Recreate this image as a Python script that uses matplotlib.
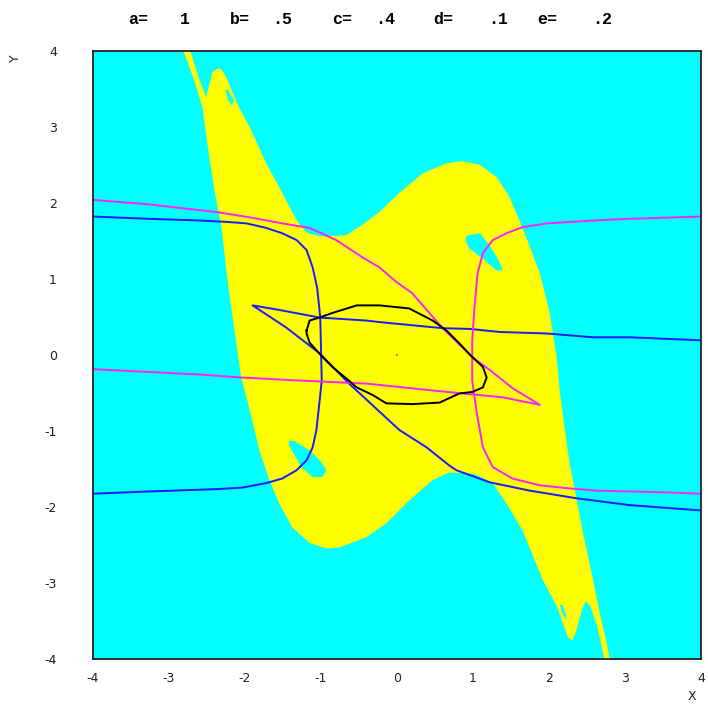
import matplotlib
matplotlib.use("Agg")
import matplotlib.pyplot as plt

# yellow basin outline
basin_x = [-2.81, -2.72, -2.60, -2.51, -2.43, -2.36, -2.31, -2.25, -2.08, -1.94, -1.72, -1.51,
           -1.32, -1.19, -1.02, -0.67, -0.43, -0.23, 0.03, 0.34, 0.65, 0.86, 1.09, 1.31, 1.48,
           1.61, 1.75, 1.88, 2.01, 2.10, 2.14, 2.18, 2.27, 2.36, 2.44, 2.58, 2.67, 2.75, 2.80,
           2.73, 2.63, 2.54, 2.48, 2.43, 2.36, 2.31, 2.25, 2.17, 2.11, 1.92, 1.65, 1.44, 1.26,
           1.02, 0.69, 0.47, 0.16, -0.14, -0.40, -0.76, -0.93, -1.15, -1.38, -1.55, -1.68,
           -1.81, -1.97, -2.05, -2.17, -2.23, -2.31, -2.38, -2.47, -2.56, -2.67]
basin_y = [4.00, 4.00, 3.62, 3.39, 3.72, 3.77, 3.76, 3.66, 3.26, 3.00, 2.52, 2.13,
           1.77, 1.61, 1.56, 1.57, 1.73, 1.88, 2.13, 2.39, 2.52, 2.55, 2.50, 2.34, 2.08,
           1.77, 1.42, 1.07, 0.55, -0.03, -0.47, -0.77, -1.43, -1.88, -2.31, -2.97, -3.41, -3.76, -4.00,
           -4.00, -3.56, -3.30, -3.25, -3.37, -3.63, -3.76, -3.72, -3.50, -3.33, -2.97, -2.31, -1.96, -1.69,
           -1.57, -1.55, -1.65, -1.92, -2.22, -2.40, -2.54, -2.55, -2.48, -2.27, -1.96, -1.65,
           -1.26, -0.60, -0.30, 0.55, 0.98, 1.68, 2.04, 2.60, 3.26, 3.62]

# cyan holes inside the yellow
hole1_x = [0.92, 1.09, 1.22, 1.35, 1.39, 1.31, 1.15, 0.95, 0.90]
hole1_y = [1.57, 1.60, 1.44, 1.22, 1.11, 1.11, 1.25, 1.40, 1.51]
hole2_x = [-1.42, -1.34, -1.15, -0.99, -0.93, -0.98, -1.11, -1.25, -1.35, -1.42]
hole2_y = [-1.13, -1.14, -1.26, -1.42, -1.52, -1.61, -1.61, -1.49, -1.32, -1.19]
hole3_x = [-2.26, -2.22, -2.15, -2.17, -2.22]
hole3_y = [3.50, 3.48, 3.35, 3.28, 3.35]
hole4_x = [2.14, 2.18, 2.23, 2.22, 2.17]
hole4_y = [-3.29, -3.30, -3.43, -3.48, -3.39]

# blue curves
blue1_x = [-4.0, -3.26, -2.64, -2.25, -1.98, -1.72, -1.51, -1.32, -1.19, -1.11, -1.05, -1.01,
           -0.99, -1.06, -1.11, -1.19, -1.32, -1.51, -1.72, -2.04, -2.38, -3.26, -4.0]
blue1_y = [1.82, 1.79, 1.77, 1.75, 1.73, 1.67, 1.60, 1.51, 1.38, 1.15, 0.88, 0.49,
           -0.34, -0.99, -1.22, -1.39, -1.52, -1.63, -1.69, -1.75, -1.77, -1.80, -1.83]
blue2_x = [4.0, 3.06, 2.58, 1.97, 1.35, 0.96, 0.60, -0.23, -0.40, -1.02, -1.55, -1.90,
           -1.46, -1.02, -0.63, 0.03, 0.39, 0.69, 0.78, 1.22, 1.75, 2.36, 3.06, 4.0]
blue2_y = [0.19, 0.23, 0.23, 0.28, 0.30, 0.34, 0.35, 0.43, 0.45, 0.49, 0.59, 0.65,
           0.36, 0.02, -0.38, -0.99, -1.22, -1.46, -1.52, -1.68, -1.79, -1.89, -1.98, -2.05]

# magenta curves
mag1_x = [-4.0, -3.26, -2.83, -2.38, -1.94, -1.51, -1.15, -0.80, -0.45, -0.23, -0.01, 0.20,
          0.60, 0.99, 1.22, 1.52, 1.88, 1.39, 0.86, 0.47, -0.40, -1.28, -2.04, -2.60, -4.0]
mag1_y = [2.04, 1.98, 1.93, 1.88, 1.81, 1.73, 1.67, 1.51, 1.28, 1.15, 0.96, 0.81,
          0.35, -0.03, -0.20, -0.44, -0.66, -0.56, -0.51, -0.47, -0.38, -0.34, -0.30, -0.26, -0.19]
mag2_x = [4.0, 3.06, 2.63, 1.97, 1.65, 1.44, 1.26, 1.13, 1.06, 1.02, 0.99, 0.99,
          1.05, 1.13, 1.26, 1.52, 1.88, 2.27, 2.63, 3.46, 4.0]
mag2_y = [1.82, 1.79, 1.77, 1.73, 1.68, 1.60, 1.51, 1.34, 1.07, 0.63, 0.19, -0.34,
          -0.77, -1.22, -1.48, -1.63, -1.72, -1.76, -1.79, -1.81, -1.83]

# black closed loop
loop_x = [-1.19, -1.15, -1.02, -0.85, -0.53, -0.23, 0.16, 0.47, 0.65, 0.82, 0.99, 1.13, 1.18,
          1.13, 0.99, 0.82, 0.56, 0.20, -0.14, -0.32, -0.53, -0.67, -0.85, -0.98, -1.15, -1.19, -1.19]
loop_y = [0.32, 0.45, 0.49, 0.55, 0.65, 0.65, 0.61, 0.45, 0.32, 0.15, -0.03, -0.16, -0.30,
          -0.43, -0.49, -0.51, -0.63, -0.65, -0.64, -0.53, -0.43, -0.31, -0.16, -0.03, 0.16, 0.28, 0.32]

ticks = [-4, -3, -2, -1, 0, 1, 2, 3, 4]
tick_labels = ["-4", "-3", "-2", "-1", "0", "1", "2", "3", "4"]
params = [("a=", 128), ("1", 180), ("b=", 230), (".5", 272), ("c=", 332), (".4", 375),
          ("d=", 433), (".1", 488), ("e=", 537), (".2", 592)]

fig = plt.figure(figsize=(7.08, 7.05), dpi=100)
ax = fig.add_axes([93 / 708, (705 - 658.5) / 705, 608 / 708, 607.5 / 705])
ax.set_facecolor("#00ffff")

ax.fill(basin_x, basin_y, color="#ffff00", lw=0)
for hx, hy in [(hole1_x, hole1_y), (hole2_x, hole2_y), (hole3_x, hole3_y), (hole4_x, hole4_y)]:
    ax.fill(hx, hy, color="#00ffff", lw=0)

ax.plot(blue1_x, blue1_y, color="#1a1aff", lw=1.4)
ax.plot(blue2_x, blue2_y, color="#1a1aff", lw=1.4)
ax.plot(mag1_x, mag1_y, color="#ff20ff", lw=1.4)
ax.plot(mag2_x, mag2_y, color="#ff20ff", lw=1.4)
ax.plot(loop_x, loop_y, color="black", lw=1.4)
ax.plot([0], [0], "s", color="#ff6060", ms=1.5, mew=0)

ax.set_xlim(-4, 4)
ax.set_ylim(-4, 4)
ax.set_xticks(ticks)
ax.set_xticklabels(tick_labels)
ax.set_yticks(ticks)
ax.set_yticklabels(tick_labels)
ax.tick_params(length=0, labelsize=9, colors="#222222")
ax.tick_params(axis="x", pad=10)
ax.tick_params(axis="y", pad=26)
for s in ax.spines.values():
    s.set_linewidth(1.3)
    s.set_color("#222222")

for txt, px in params:
    fig.text(px / 708, 1 - 20 / 705, txt, ha="left", va="center",
             family="Liberation Mono", weight="bold", fontsize=12)

fig.text(692 / 708, 1 - 697 / 705, "X", ha="center", va="center", fontsize=9, color="#222222")
fig.text(15 / 708, 1 - 58 / 705, "Y", ha="center", va="center", fontsize=9, rotation=90, color="#222222")

fig.savefig("out.png", dpi=100)
